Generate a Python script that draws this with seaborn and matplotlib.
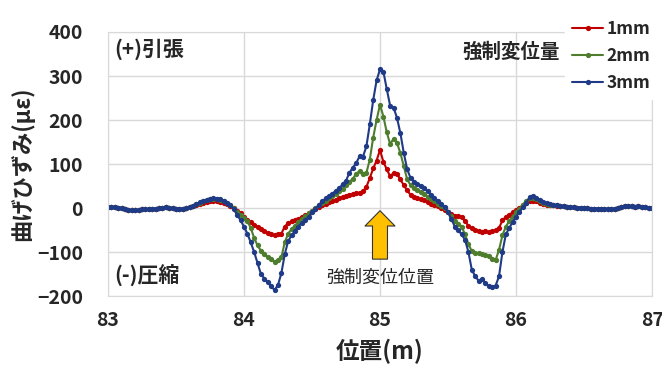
import numpy as np
import pandas as pd
import seaborn as sns
import matplotlib.pyplot as plt

# position (m), 0.025 m step from 83 to 87
x_start = 83.0
x_step = 0.025

flat_left = [3, 3, 2, 1, 0, -2, -4, -5, -5, -4, -3, -3, -2, -2, -1, 0, 1, 2, 1, 0,
             -1, -2, -1, 0, 2]
flat_right = [4, 3, 2, 2, 1, 1, 0, 0, -1, -1, -1, -2, -2, -2, -3, -1, 1, 3, 4, 5,
              4, 3, 4, 3, 2, 1, 1]

# 83.625 .. 86.325 for each load case
mid_1mm = [4, 7, 10, 12, 14, 15, 16, 15, 14, 12, 9, 5, 0, -6, -12,
           -20, -27, -32, -38, -44, -48, -52, -57, -60, -62, -60, -58, -42, -34, -30,
           -27, -24, -20, -16, -12, -7, -2, 2, 6, 10, 13, 16, 19, 22, 25,
           27, 30, 32, 34, 35, 38, 48, 68, 90, 108, 132, 105, 88, 72, 80,
           78, 65, 52, 40, 30, 25, 22, 20, 18, 14, 10, 7, 4, 0, -5,
           -10, -14, -17, -18, -20, -30, -40, -46, -50, -52, -54, -53, -55, -53, -50,
           -45, -28, -20, -15, -10, -5, 0, 6, 12, 16, 17, 15, 12, 10, 8,
           7, 6, 5, 4]
mid_2mm = [5, 9, 12, 15, 18, 20, 21, 20, 19, 16, 12, 7, 0, -8, -15,
           -22, -30, -45, -68, -85, -97, -105, -112, -116, -122, -118, -112, -78, -58, -48,
           -40, -32, -25, -18, -12, -6, 0, 6, 12, 17, 22, 27, 32, 38, 44,
           52, 60, 66, 78, 84, 78, 80, 110, 160, 200, 235, 208, 172, 145, 158,
           148, 125, 95, 65, 52, 45, 40, 36, 32, 26, 20, 15, 10, 5, 0,
           -8, -18, -30, -36, -42, -60, -82, -98, -102, -103, -104, -106, -108, -115, -118,
           -95, -62, -42, -30, -20, -10, -2, 8, 16, 22, 22, 20, 16, 12, 10,
           8, 7, 6, 5]
mid_3mm = [5, 9, 13, 16, 19, 21, 22, 21, 20, 17, 12, 6, -3, -15, -28,
           -42, -58, -78, -100, -125, -150, -160, -168, -178, -186, -175, -148, -105, -75, -62,
           -52, -42, -34, -28, -20, -10, -2, 7, 15, 22, 28, 33, 39, 45, 54,
           62, 80, 92, 102, 118, 117, 140, 190, 245, 290, 315, 310, 270, 232, 228,
           205, 170, 125, 88, 68, 60, 55, 50, 45, 38, 30, 22, 16, 10, 3,
           -10, -25, -42, -50, -60, -72, -100, -140, -155, -165, -162, -170, -178, -180, -176,
           -155, -100, -60, -45, -32, -20, -8, 2, 12, 25, 27, 24, 19, 14, 11,
           9, 7, 6, 5]

series_names = ['1mm', '2mm', '3mm']
series_values = [flat_left + mid_1mm + flat_right,
                 flat_left + mid_2mm + flat_right,
                 flat_left + mid_3mm + flat_right]
colors = ['#C00000', '#4E7D2E', '#1F3A86']

y_ticks = [-200, -100, 0, 100, 200, 300, 400]
x_ticks = [83, 84, 85, 86, 87]

frames = []
for name, vals in zip(series_names, series_values):
    xs = x_start + x_step * np.arange(len(vals))
    frames.append(pd.DataFrame({'pos': xs, 'strain': vals, 'case': name}))
df = pd.concat(frames, ignore_index=True)

sns.set_style('white')
plt.rcParams['font.family'] = ['Noto Sans CJK JP', 'DejaVu Sans']

fig = plt.figure(figsize=(6.62, 3.72), dpi=100)
ax = fig.add_axes([0.163, 0.204, 0.822, 0.710])

sns.lineplot(data=df, x='pos', y='strain', hue='case', hue_order=series_names,
             palette=colors, marker='o', markersize=3.8, markeredgewidth=0,
             linewidth=1.5, ax=ax, legend=True)

ax.set_xlim(83, 87)
ax.set_ylim(-200, 400)
ax.set_xticks(x_ticks)
ax.set_yticks(y_ticks)
ax.grid(True, color='#d9d9d9', linewidth=1)
for s in ax.spines.values():
    s.set_color('#d9d9d9')
ax.tick_params(axis='both', length=0, labelsize=14)
ax.tick_params(axis='y', pad=18)
ax.tick_params(axis='x', pad=11)
for lab in ax.get_xticklabels() + ax.get_yticklabels():
    lab.set_fontweight('bold')

ax.set_xlabel('位置(m)', fontsize=17, fontweight='bold', labelpad=6)
ax.set_ylabel('曲げひずみ(με)', fontsize=16, fontweight='bold', labelpad=2)

ax.text(83.05, 360, '(+)引張', fontsize=15, fontweight='bold', va='center', ha='left')
ax.text(83.05, -155, '(-)圧縮', fontsize=15, fontweight='bold', va='center', ha='left')
ax.text(86.32, 355, '強制変位量', fontsize=14, fontweight='bold', va='center', ha='right')
ax.text(85.0, -158, '強制変位位置', fontsize=13, va='center', ha='center')

ax.annotate('', xy=(85.0, -6), xytext=(85.0, -116),
            arrowprops=dict(arrowstyle='simple,head_length=0.55,head_width=1.08,tail_width=0.54',
                            mutation_scale=20, fc='#FFC000', ec='#333333', lw=0.8,
                            shrinkA=0, shrinkB=0))

handles, labels = ax.get_legend_handles_labels()
leg = ax.legend(handles, labels, loc='upper right', bbox_to_anchor=(1.01, 1.07),
                frameon=True, fancybox=False, edgecolor='white', framealpha=1,
                prop={'weight': 'bold', 'size': 12.5}, handlelength=1.8,
                handletextpad=0.2, labelspacing=0.5, borderaxespad=0)

fig.savefig('out.png', dpi=100)
